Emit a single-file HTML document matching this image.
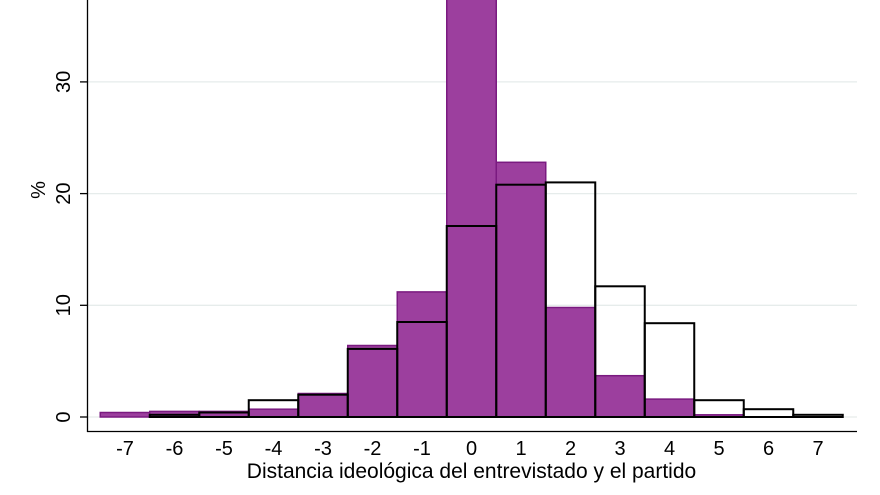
<!DOCTYPE html>
<html><head><meta charset="utf-8"><style>
html,body{margin:0;padding:0;background:#fff;}
svg{display:block;}
text{font-family:"Liberation Sans",Arial,sans-serif;fill:#000;}
</style></head><body>
<svg width="880" height="495" viewBox="0 0 880 495" xmlns="http://www.w3.org/2000/svg">
<rect width="880" height="495" fill="#fff"/>
<g stroke="#e6eceb" stroke-width="1.3">
<line x1="88" x2="857" y1="417" y2="417"/>
<line x1="88" x2="857" y1="305.3" y2="305.3"/>
<line x1="88" x2="857" y1="193.6" y2="193.6"/>
<line x1="88" x2="857" y1="81.9" y2="81.9"/>
</g>
<g fill="#9c3f9e" stroke="#7a1a80" stroke-width="1.5">
<rect x="100.25" y="412.5" width="49.5" height="4.5"/>
<rect x="149.75" y="411.4" width="49.5" height="5.6"/>
<rect x="199.25" y="411.4" width="49.5" height="5.6"/>
<rect x="248.75" y="409.2" width="49.5" height="7.8"/>
<rect x="298.25" y="393.5" width="49.5" height="23.5"/>
<rect x="347.75" y="345.5" width="49.5" height="71.5"/>
<rect x="397.25" y="291.9" width="49.5" height="125.1"/>
<rect x="446.75" y="-5" width="49.5" height="422"/>
<rect x="496.25" y="162.3" width="49.5" height="254.7"/>
<rect x="545.75" y="307.5" width="49.5" height="109.5"/>
<rect x="595.25" y="375.7" width="49.5" height="41.3"/>
<rect x="644.75" y="399.1" width="49.5" height="17.9"/>
<rect x="694.25" y="414.8" width="49.5" height="2.2"/>
</g>
<g fill="none" stroke="#000" stroke-width="2">
<rect x="149.75" y="414.8" width="49.5" height="2.2"/>
<rect x="199.25" y="412.5" width="49.5" height="4.5"/>
<rect x="248.75" y="400.2" width="49.5" height="16.8"/>
<rect x="298.25" y="394.7" width="49.5" height="22.3"/>
<rect x="347.75" y="348.9" width="49.5" height="68.1"/>
<rect x="397.25" y="322" width="49.5" height="95"/>
<rect x="446.75" y="226" width="49.5" height="191"/>
<rect x="496.25" y="184.7" width="49.5" height="232.3"/>
<rect x="545.75" y="182.4" width="49.5" height="234.6"/>
<rect x="595.25" y="286.3" width="49.5" height="130.7"/>
<rect x="644.75" y="323.2" width="49.5" height="93.8"/>
<rect x="694.25" y="400.2" width="49.5" height="16.8"/>
<rect x="743.75" y="409.2" width="49.5" height="7.8"/>
<rect x="793.25" y="414.8" width="49.5" height="2.2"/>
</g>
<g stroke="#000" stroke-width="1.3">
<line x1="87.5" y1="0" x2="87.5" y2="432"/>
<line x1="87" y1="431.5" x2="857" y2="431.5"/>
<line x1="80" x2="87.5" y1="417" y2="417"/>
<line x1="80" x2="87.5" y1="305.3" y2="305.3"/>
<line x1="80" x2="87.5" y1="193.6" y2="193.6"/>
<line x1="80" x2="87.5" y1="81.9" y2="81.9"/>
</g>
<g font-size="20" text-anchor="middle">
<text transform="translate(70,417) rotate(-90)">0</text>
<text transform="translate(70,305.3) rotate(-90)">10</text>
<text transform="translate(70,193.6) rotate(-90)">20</text>
<text transform="translate(70,81.9) rotate(-90)">30</text>
<text transform="translate(45,190) rotate(-90)">%</text>
</g>
<g font-size="20" text-anchor="middle">
<text x="125" y="455">-7</text><text x="174.5" y="455">-6</text><text x="224" y="455">-5</text>
<text x="273.5" y="455">-4</text><text x="323" y="455">-3</text><text x="372.5" y="455">-2</text>
<text x="422" y="455">-1</text><text x="471.5" y="455">0</text><text x="521" y="455">1</text>
<text x="570.5" y="455">2</text><text x="620" y="455">3</text><text x="669.5" y="455">4</text>
<text x="719" y="455">5</text><text x="768.5" y="455">6</text><text x="818" y="455">7</text>
<text x="471.5" y="478" font-size="21">Distancia ideológica del entrevistado y el partido</text>
</g>
</svg>
</body></html>
